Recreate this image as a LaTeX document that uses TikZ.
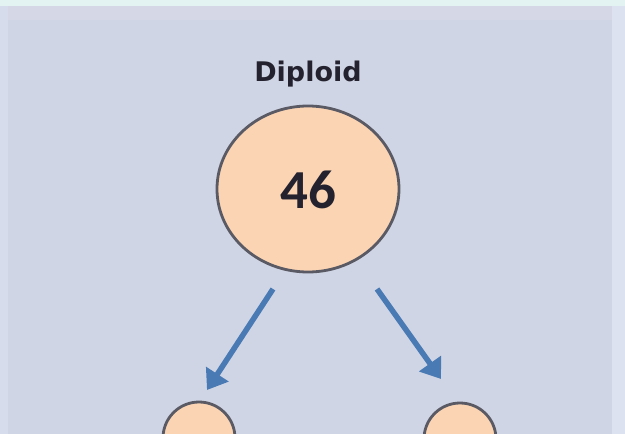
\documentclass[tikz,border=0pt]{standalone}
\usepackage{fontspec}
\setmainfont{Carlito}
\newfontfamily\labelfont{DejaVu Sans}
\usetikzlibrary{arrows.meta,shapes.geometric}
\definecolor{panel}{HTML}{CFD5E5}
\definecolor{band}{HTML}{D5D6E6}
\definecolor{edgeL}{HTML}{D6DCEC}
\definecolor{edgeR}{HTML}{DCE2EF}
\definecolor{strip}{HTML}{E3F3F1}
\definecolor{cellfill}{HTML}{FBD4B3}
\definecolor{cellrim}{HTML}{5A5A64}
\definecolor{arrowblue}{HTML}{4A7AB4}
\definecolor{inktext}{HTML}{24222E}
\tikzset{
  cell/.style={ellipse, draw=cellrim, line width=2.8pt, fill=cellfill, inner sep=0pt},
  split/.style={draw=arrowblue, line width=5.5pt,
    -{Triangle[length=19pt,width=26pt]}},
}
\begin{document}
\begin{tikzpicture}[x=1pt,y=-1pt]
  \useasboundingbox (0,0) rectangle (625,434);
  \clip (0,0) rectangle (625,434);
  % backdrop
  \fill[panel] (0,0) rectangle (625,434);
  \fill[band] (0,6) rectangle (625,20);
  \fill[edgeL] (0,6) rectangle (8,434);
  \fill[edgeR] (612,6) rectangle (625,434);
  \fill[strip] (0,0) rectangle (625,6);
  % parent cell
  \node[font=\labelfont\bfseries\fontsize{27}{29}\selectfont, text=inktext] (lbl) at (308,74) {Diploid};
  \node[cell, minimum width=182pt, minimum height=166pt] (parent) at (308,189) {};
  \node[font=\bfseries\fontsize{55}{60}\selectfont, text=inktext] (num) at (308,190) {46};
  % daughter cells
  \node[cell, minimum width=72pt, minimum height=72pt] (left) at (199,438) {};
  \node[cell, minimum width=72pt, minimum height=72pt] (right) at (460,439) {};
  % arrows
  \coordinate (ls) at (273,289);
  \coordinate (le) at (207,390);
  \coordinate (rs) at (377,289);
  \coordinate (re) at (441,379);
  \draw[split] (ls) -- (le);
  \draw[split] (rs) -- (re);
\end{tikzpicture}
\end{document}
